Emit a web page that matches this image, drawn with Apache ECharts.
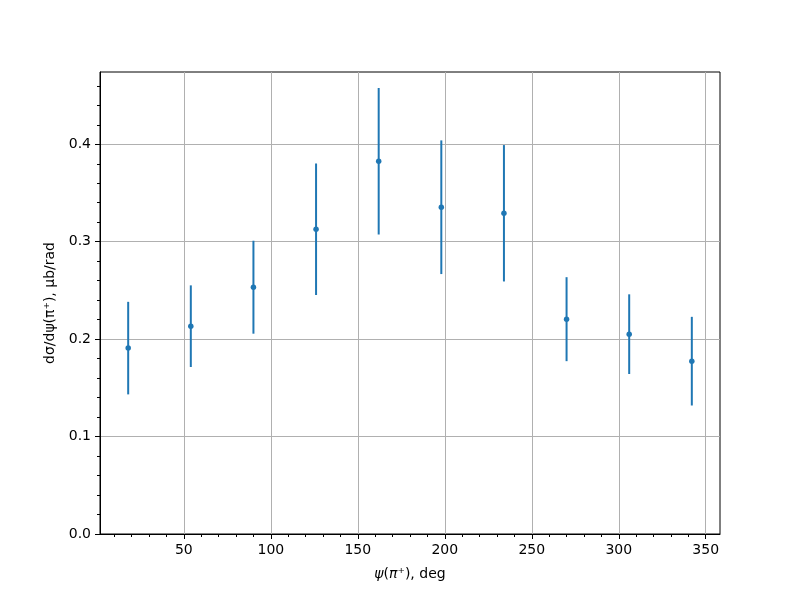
<!DOCTYPE html>
<html>
<head>
<meta charset="utf-8">
<script src="https://cdn.jsdelivr.net/npm/echarts@6/dist/echarts.min.js"></script>
<style>
  html, body { margin: 0; padding: 0; background: #fff; }
  #chart { width: 800px; height: 600px; }
</style>
</head>
<body>
<div id="chart"></div>
<script>
// 数据
var psi = [18, 54, 90, 126, 162, 198, 234, 270, 306, 342]
var sigma = [0.1908, 0.2133, 0.2533, 0.3128, 0.3826, 0.3354, 0.3292, 0.2205, 0.2051, 0.1774]
var sigmaErr = [0.0475, 0.0419, 0.0477, 0.0675, 0.0752, 0.0686, 0.0700, 0.0431, 0.0409, 0.0455]

var xTicks = [50, 100, 150, 200, 250, 300, 350]
var xMinorTicks = [10, 20, 30, 40, 60, 70, 80, 90, 110, 120, 130, 140, 160, 170, 180, 190,
  210, 220, 230, 240, 260, 270, 280, 290, 310, 320, 330, 340]
var yTicks = [0, 0.1, 0.2, 0.3, 0.4]
var yMinorTicks = [0.02, 0.04, 0.06, 0.08, 0.12, 0.14, 0.16, 0.18, 0.22, 0.24, 0.26, 0.28,
  0.32, 0.34, 0.36, 0.38, 0.42, 0.44, 0.46]

var xMin = 1.8
var xMax = 358.2
var yMin = 0
var yMax = 0.4742

var color = '#1f77b4'
var font = 'DejaVu Sans'

var myChart = echarts.init(document.getElementById('chart'))

var points = psi.map(function (x, i) { return [x, sigma[i]] })
var bars = psi.map(function (x, i) { return [x, sigma[i] - sigmaErr[i], sigma[i] + sigmaErr[i]] })

var majorX = {
  type: 'value', min: xMin, max: xMax, position: 'bottom',
  axisLine: { show: true, onZero: false, lineStyle: { color: '#000', width: 1 } },
  axisTick: { show: true, customValues: xTicks, length: 5, lineStyle: { color: '#000', width: 1 } },
  axisLabel: {
    show: true, customValues: xTicks, margin: 9, color: '#000', fontFamily: font, fontSize: 14,
    formatter: function (v) { return String(v) }
  },
  splitLine: { show: true, lineStyle: { color: '#b0b0b0', width: 1 } },
  name: '{i|ψ}({i|π}⁺), deg',
  nameLocation: 'middle',
  nameGap: 33,
  nameTextStyle: {
    color: '#000', fontFamily: font, fontSize: 14,
    rich: { i: { fontStyle: 'italic', fontFamily: font, fontSize: 14, color: '#000' } }
  }
}
var minorX = {
  type: 'value', min: xMin, max: xMax, position: 'bottom',
  axisLine: { show: false, onZero: false },
  axisTick: { show: true, customValues: xMinorTicks, length: 3, lineStyle: { color: '#000', width: 1 } },
  axisLabel: { show: false },
  splitLine: { show: false }
}
var majorY = {
  type: 'value', min: yMin, max: yMax, position: 'left',
  axisLine: { show: true, onZero: false, lineStyle: { color: '#000', width: 1 } },
  axisTick: { show: true, customValues: yTicks, length: 5, lineStyle: { color: '#000', width: 1 } },
  axisLabel: {
    show: true, customValues: yTicks, margin: 9, color: '#000', fontFamily: font, fontSize: 14,
    formatter: function (v) { return v.toFixed(1) }
  },
  splitLine: { show: true, lineStyle: { color: '#b0b0b0', width: 1 } },
  name: 'dσ/dψ(π⁺), μb/rad',
  nameLocation: 'middle',
  nameGap: 42,
  nameRotate: 90,
  nameTextStyle: { color: '#000', fontFamily: font, fontSize: 14 }
}
var minorY = {
  type: 'value', min: yMin, max: yMax, position: 'left',
  axisLine: { show: false, onZero: false },
  axisTick: { show: true, customValues: yMinorTicks, length: 3, lineStyle: { color: '#000', width: 1 } },
  axisLabel: { show: false },
  splitLine: { show: false }
}

var option = {
  animation: false,
  backgroundColor: '#fff',
  grid: {
    left: 100, right: 80, top: 72, bottom: 66,
    show: true, borderColor: '#000', borderWidth: 1, backgroundColor: 'transparent'
  },
  xAxis: [majorX, minorX],
  yAxis: [majorY, minorY],
  series: [
    {
      type: 'custom',
      xAxisIndex: 0,
      yAxisIndex: 0,
      data: bars,
      z: 2,
      renderItem: function (params, api) {
        var lo = api.coord([api.value(0), api.value(1)])
        var hi = api.coord([api.value(0), api.value(2)])
        return {
          type: 'line',
          shape: { x1: lo[0], y1: lo[1], x2: hi[0], y2: hi[1] },
          style: { stroke: color, lineWidth: 2 }
        }
      }
    },
    {
      type: 'scatter',
      xAxisIndex: 0,
      yAxisIndex: 0,
      data: points,
      symbol: 'circle',
      symbolSize: 5.5,
      z: 3,
      itemStyle: { color: color, opacity: 1 }
    }
  ]
}
myChart.setOption(option, true)
</script>
</body>
</html>
